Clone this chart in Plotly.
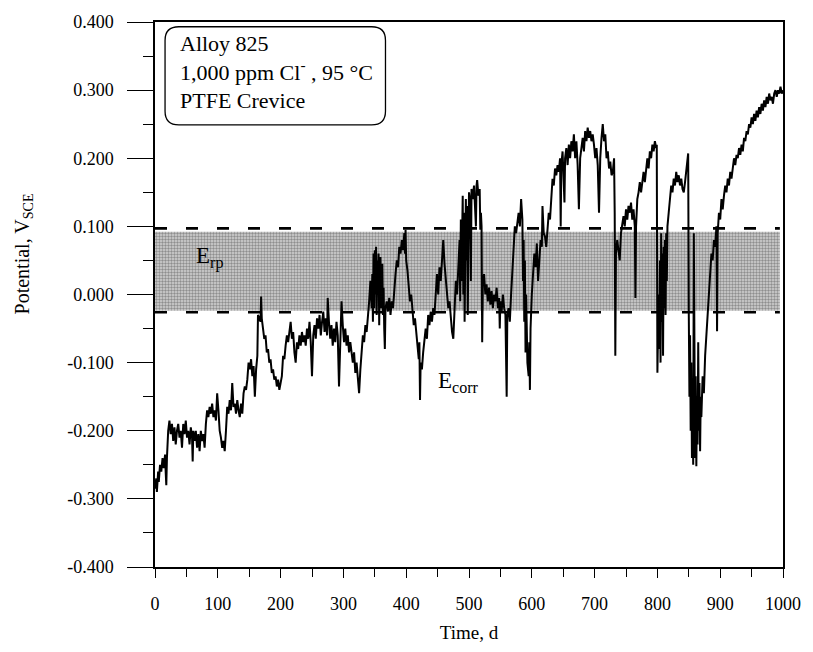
import plotly.graph_objects as go

# ---- data ----
time_d = [0,2,3,5,6,8,10,12,14,16,17,18,19,21,23,25,27,29,31,33,35,37,39,41,43,45,47,49,51,53,55,57,59,60,61,63,65,67,69,71,73,75,77,79,81,83,85,87,89,91,93,95,97,99,101,103,105,107,109,111,113,115,117,119,121,123,125,127,129,131,133,135,137,139,141,143,145,147,149,151,153,155,157,159,161,163,164,166,168,169,170,172,174,176,178,180,182,184,186,188,190,192,194,196,198,200,202,204,206,208,210,212,214,216,218,220,222,224,226,228,230,232,234,236,238,240,242,244,246,248,250,252,254,256,258,260,262,264,266,268,270,272,274,275,277,279,281,283,285,287,289,291,293,295,297,299,301,303,305,307,309,311,313,315,317,319,321,323,325,327,329,331,333,335,337,339,341,343,345,346,347,348,349,350,351,352,353,354,355,356,357,358,359,360,361,362,363,364,365,366,367,369,371,373,375,377,379,381,383,385,387,389,391,393,395,397,398,399,400,402,404,406,408,410,412,414,416,418,420,421,422,423,425,427,429,431,433,435,437,439,441,443,445,447,449,451,453,455,457,459,461,463,465,467,469,471,473,475,477,479,481,483,485,486,487,488,489,490,491,492,493,494,495,496,497,498,499,500,502,503,504,506,508,510,511,512,513,515,517,518,519,520,521,522,524,526,528,530,532,534,536,538,540,542,544,546,548,549,550,552,554,556,558,560,561,563,565,567,569,571,573,575,577,579,581,583,585,586,587,588,589,590,591,593,595,596,597,598,600,602,604,606,608,610,612,614,616,617,619,621,623,625,627,629,631,633,635,637,639,641,643,645,646,647,649,651,652,653,655,657,659,661,663,665,667,669,671,673,675,677,679,681,683,685,687,689,691,693,695,697,699,701,703,705,707,709,711,713,715,717,719,721,723,725,727,729,731,732,733,734,736,738,740,742,744,746,748,750,752,754,756,758,760,762,764,765,766,768,770,772,774,776,778,780,782,784,786,788,790,792,794,796,798,799,800,801,802,803,804,805,806,807,808,809,810,811,812,813,814,815,816,818,820,822,824,826,828,830,832,834,836,838,840,842,844,846,848,849,850,851,852,853,854,855,856,857,858,859,860,861,862,863,864,865,866,867,868,869,870,872,874,876,878,880,882,884,886,888,890,892,894,895,896,898,900,902,904,906,908,910,912,914,916,918,920,922,924,926,928,930,932,934,936,938,940,942,944,946,948,950,952,954,956,958,960,962,964,966,968,970,972,974,976,978,980,982,984,986,988,990,992,994,996,998,1000]

potential_v = [-0.285,-0.27,-0.29,-0.26,-0.275,-0.25,-0.26,-0.24,-0.255,-0.235,-0.26,-0.28,-0.24,-0.2,-0.185,-0.205,-0.19,-0.215,-0.195,-0.22,-0.2,-0.19,-0.21,-0.2,-0.225,-0.19,-0.205,-0.185,-0.21,-0.2,-0.22,-0.195,-0.21,-0.245,-0.2,-0.215,-0.2,-0.225,-0.205,-0.23,-0.2,-0.215,-0.205,-0.225,-0.19,-0.17,-0.18,-0.165,-0.175,-0.16,-0.18,-0.17,-0.185,-0.145,-0.17,-0.2,-0.21,-0.225,-0.215,-0.23,-0.2,-0.165,-0.175,-0.155,-0.17,-0.13,-0.165,-0.16,-0.175,-0.155,-0.17,-0.18,-0.16,-0.175,-0.145,-0.135,-0.14,-0.125,-0.1,-0.11,-0.095,-0.12,-0.105,-0.15,-0.11,-0.09,-0.03,-0.035,-0.04,-0.003,-0.035,-0.05,-0.065,-0.06,-0.085,-0.08,-0.1,-0.095,-0.115,-0.11,-0.125,-0.12,-0.135,-0.125,-0.14,-0.13,-0.12,-0.09,-0.095,-0.075,-0.06,-0.07,-0.05,-0.04,-0.065,-0.055,-0.085,-0.1,-0.07,-0.08,-0.06,-0.075,-0.055,-0.07,-0.06,-0.075,-0.05,-0.065,-0.04,-0.07,-0.12,-0.06,-0.045,-0.065,-0.035,-0.05,-0.03,-0.06,-0.04,-0.025,-0.055,-0.035,-0.06,-0.005,-0.04,-0.065,-0.045,-0.075,-0.05,-0.07,-0.04,-0.06,-0.135,-0.06,-0.01,-0.045,-0.07,-0.05,-0.075,-0.06,-0.085,-0.07,-0.09,-0.1,-0.085,-0.115,-0.1,-0.13,-0.145,-0.11,-0.08,-0.06,-0.07,-0.045,-0.055,-0.035,-0.01,0.02,-0.02,0.03,-0.04,0.06,-0.02,0.065,0.0,0.07,-0.03,0.05,0.02,0.06,-0.045,0.04,0.055,-0.02,0.03,0.045,-0.03,0.01,-0.05,-0.08,-0.02,-0.01,-0.025,-0.005,-0.03,-0.01,-0.02,0.01,0.03,0.05,0.04,0.07,0.06,0.08,0.065,0.09,0.06,0.095,0.05,0.035,0.01,-0.01,0.0,-0.03,-0.045,-0.035,-0.06,-0.08,-0.095,-0.07,-0.155,-0.1,-0.11,-0.085,-0.07,-0.05,-0.065,-0.03,-0.045,-0.025,-0.04,-0.02,-0.03,0.01,0.03,0.0,0.04,0.02,0.06,0.08,0.045,0.02,0.0,-0.02,-0.01,-0.04,-0.055,-0.065,-0.03,0.02,0.0,0.04,0.08,-0.01,0.11,0.02,0.13,0.145,0.0,0.12,-0.04,0.1,0.14,0.05,0.13,-0.03,0.12,0.15,0.135,0.02,0.155,0.14,0.16,0.13,0.1,0.16,0.168,0.145,0.155,0.095,0.12,0.1,-0.07,0.02,0.03,0.0,0.015,-0.01,0.01,-0.015,0.005,-0.02,0.0,-0.01,0.01,-0.02,-0.005,-0.05,-0.01,-0.025,0.0,-0.02,-0.03,-0.15,-0.03,-0.02,-0.04,0.0,0.04,0.08,0.1,0.09,0.11,0.12,0.1,0.14,0.11,0.02,0.08,-0.04,0.05,-0.085,0.0,-0.1,-0.12,-0.07,-0.14,-0.05,0.0,0.03,0.06,0.04,0.075,0.02,0.06,0.08,0.07,0.13,0.09,0.085,0.07,0.1,0.12,0.11,0.135,0.17,0.16,0.185,0.175,0.19,0.18,0.2,0.1,0.19,0.21,0.17,0.135,0.2,0.215,0.19,0.22,0.2,0.225,0.21,0.235,0.2,0.225,0.19,0.125,0.2,0.215,0.23,0.21,0.24,0.225,0.245,0.23,0.24,0.225,0.235,0.22,0.2,0.215,0.19,0.12,0.2,0.23,0.25,0.225,0.235,0.2,0.21,0.185,0.195,0.175,0.18,0.2,0.12,-0.09,0.06,0.08,0.06,0.05,0.09,0.1,0.115,0.1,0.125,0.11,0.13,0.12,0.135,0.11,0.125,0.1,-0.005,0.1,0.14,0.15,0.165,0.15,0.17,0.18,0.165,0.19,0.2,0.185,0.21,0.2,0.22,0.21,0.225,0.215,0.22,-0.115,-0.05,0.0,-0.08,0.05,-0.1,0.09,-0.04,0.06,-0.09,0.07,-0.02,0.08,-0.03,0.09,0.02,0.1,0.12,0.14,0.16,0.15,0.17,0.16,0.18,0.165,0.175,0.16,0.17,0.155,0.15,0.165,0.18,0.2,0.207,-0.03,-0.15,-0.06,-0.2,-0.1,-0.24,-0.14,-0.25,0.09,-0.2,-0.24,-0.12,-0.252,-0.15,-0.22,-0.07,-0.2,-0.13,-0.23,-0.15,-0.18,-0.12,-0.145,-0.09,-0.06,-0.02,0.0,0.03,0.06,0.05,0.08,0.07,0.1,-0.054,0.09,0.12,0.11,0.14,0.125,0.145,0.16,0.15,0.17,0.16,0.18,0.17,0.185,0.2,0.19,0.205,0.2,0.215,0.205,0.22,0.21,0.23,0.225,0.24,0.235,0.25,0.245,0.26,0.25,0.265,0.255,0.27,0.26,0.275,0.265,0.28,0.27,0.285,0.275,0.29,0.28,0.295,0.285,0.29,0.28,0.295,0.3,0.29,0.3,0.295,0.305,0.295,0.3]

band_time = [0, 995]
band_low, band_high = -0.024, 0.092
erp_dash_low, erp_dash_high = -0.026, 0.097

x_ticks = [0, 100, 200, 300, 400, 500, 600, 700, 800, 900, 1000]
y_ticks = [-0.4, -0.3, -0.2, -0.1, 0.0, 0.1, 0.2, 0.3, 0.4]
y_tick_labels = ["-0.400", "-0.300", "-0.200", "-0.100", "0.000", "0.100", "0.200", "0.300", "0.400"]

SERIF = "Liberation Serif, Times New Roman, serif"

fig = go.Figure()

# shaded E_rp band
fig.add_trace(go.Scatter(
    x=[band_time[0], band_time[1], band_time[1], band_time[0], band_time[0]],
    y=[band_low, band_low, band_high, band_high, band_low],
    mode="lines", line=dict(width=0), fill="toself",
    fillcolor="#c8c8c8",
    fillpattern=dict(shape=".", fgcolor="#4a4a4a", bgcolor="#d2d2d2", size=3, solidity=0.5),
    hoverinfo="skip", showlegend=False))

# dashed band limits
for lvl in (erp_dash_high, erp_dash_low):
    fig.add_trace(go.Scatter(
        x=band_time, y=[lvl, lvl], mode="lines",
        line=dict(color="black", width=2.6, dash="12px,19px"),
        hoverinfo="skip", showlegend=False))

# E_corr trace
fig.add_trace(go.Scatter(
    x=time_d, y=potential_v, mode="lines",
    line=dict(color="black", width=2.0),
    showlegend=False))

# rounded box for the legend text
bx0, bx1, by0, by1 = 16, 367, 0.249, 0.393
rx, ry = 22, 0.02
path = (f"M {bx0+rx},{by1} L {bx1-rx},{by1} Q {bx1},{by1} {bx1},{by1-ry} "
        f"L {bx1},{by0+ry} Q {bx1},{by0} {bx1-rx},{by0} L {bx0+rx},{by0} "
        f"Q {bx0},{by0} {bx0},{by0+ry} L {bx0},{by1-ry} Q {bx0},{by1} {bx0+rx},{by1} Z")
fig.add_shape(type="path", path=path, xref="x", yref="y",
              line=dict(color="black", width=1.3), fillcolor="white", layer="above")

fig.add_annotation(x=36, y=0.390, xref="x", yref="y", xanchor="left", yanchor="top",
                   align="left", showarrow=False,
                   text="Alloy 825<br>1,000 ppm Cl<sup>-</sup> , 95 °C<br>PTFE Crevice",
                   font=dict(family=SERIF, size=22, color="black"))

fig.add_annotation(x=62, y=0.055, xref="x", yref="y", xanchor="left", showarrow=False,
                   text="E<sub>rp</sub>", font=dict(family=SERIF, size=23, color="black"))
fig.add_annotation(x=448, y=-0.128, xref="x", yref="y", xanchor="left", showarrow=False,
                   text="E<sub>corr</sub>", font=dict(family=SERIF, size=23, color="black"))

# y-axis title
fig.add_annotation(x=-0.232, y=0.06, xref="paper", yref="y", showarrow=False,
                   textangle=-90, text="Potential, V<sub>SCE</sub>",
                   font=dict(family=SERIF, size=20, color="black"))

fig.update_layout(
    width=813, height=652,
    margin=dict(l=155, r=20, t=17, b=83),
    paper_bgcolor="white", plot_bgcolor="white",
    font=dict(family=SERIF, size=18, color="black"),
    showlegend=False,
    xaxis=dict(range=[0, 1000], tickvals=x_ticks, ticktext=[str(v) for v in x_ticks],
               ticks="outside", ticklen=9, tickwidth=1.3, tickcolor="black",
               minor=dict(dtick=50, ticks="outside", ticklen=8, tickwidth=1.2, tickcolor="black"),
               showline=True, linecolor="black", linewidth=1.5, mirror=True,
               showgrid=False, zeroline=False, ticklabelstandoff=11,
               title=dict(text="Time, d", font=dict(family=SERIF, size=19), standoff=12)),
    yaxis=dict(range=[-0.4, 0.4], tickvals=y_ticks, ticktext=y_tick_labels,
               ticks="outside", ticklen=26, tickwidth=1.3, tickcolor="black",
               minor=dict(dtick=0.05, ticks="outside", ticklen=10, tickwidth=1.2, tickcolor="black"),
               showline=True, linecolor="black", linewidth=1.5, mirror=True,
               showgrid=False, zeroline=False, ticklabelstandoff=10),
)

fig.write_html(
    "out.html",
    config={"displayModeBar": False},
    post_script="document.body.style.margin='0px';document.body.style.overflow='hidden';",
)
